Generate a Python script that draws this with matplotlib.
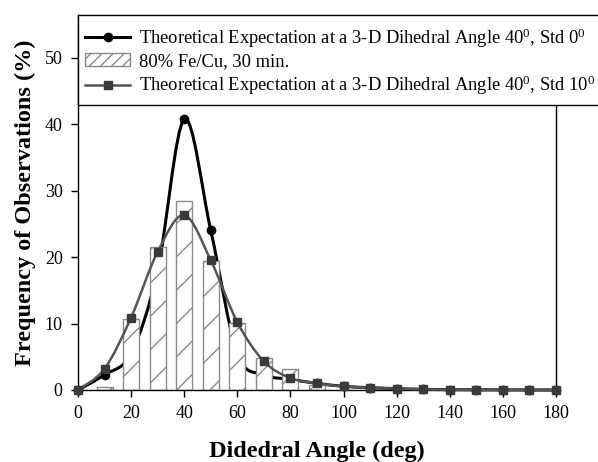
import numpy as np
import matplotlib
matplotlib.use('Agg')
import matplotlib.pyplot as plt
from matplotlib.path import Path
from matplotlib.patches import PathPatch, Rectangle, Patch
from matplotlib.lines import Line2D

plt.rcParams['font.family'] = ['Liberation Serif', 'DejaVu Serif']
plt.rcParams['mathtext.fontset'] = 'custom'
plt.rcParams['mathtext.rm'] = 'Liberation Serif'
plt.rcParams['mathtext.it'] = 'Liberation Serif:italic'
plt.rcParams['hatch.linewidth'] = 1.0

# Data
angles = [0, 10, 20, 30, 40, 50, 60, 70, 80, 90, 100, 110, 120, 130, 140, 150, 160, 170, 180]
std0 = [0, 2.3, 5.5, 18.0, 40.7, 24.0, 5.5, 2.3, 1.6, 1.0, 0.55, 0.35, 0.2, 0.1, 0.05, 0.03, 0.02, 0.01, 0]
std10 = [0, 3.2, 10.9, 20.8, 26.3, 19.5, 10.2, 4.3, 1.8, 1.0, 0.55, 0.35, 0.2, 0.1, 0.05, 0.03, 0.02, 0.01, 0]

bar_angles = [10, 20, 30, 40, 50, 60, 70, 80, 90]
observed = [0.5, 10.7, 21.5, 28.4, 19.4, 10.1, 4.8, 3.2, 0.8]

xticks = [0, 20, 40, 60, 80, 100, 120, 140, 160, 180]
yticks = [0, 10, 20, 30, 40, 50]

labels = [r'Theoretical Expectation at a 3-D Dihedral Angle 40$^0$, Std 0$^0$',
          '80% Fe/Cu, 30 min.',
          r'Theoretical Expectation at a 3-D Dihedral Angle 40$^0$, Std 10$^0$']


def smooth_path(x, y):
    # Catmull-Rom style cubic bezier through the points
    n = len(x)
    verts = [(x[0], y[0])]
    codes = [Path.MOVETO]
    for i in range(n - 1):
        a = max(i - 1, 0)
        d = min(i + 2, n - 1)
        c1 = (x[i] + (x[i + 1] - x[a]) / 6, y[i] + (y[i + 1] - y[a]) / 6)
        c2 = (x[i + 1] - (x[d] - x[i]) / 6, y[i + 1] - (y[d] - y[i]) / 6)
        verts += [c1, c2, (x[i + 1], y[i + 1])]
        codes += [Path.CURVE4] * 3
    return Path(verts, codes)


fig = plt.figure(figsize=(5.98, 4.62), dpi=100)
ax = fig.add_axes([78 / 598, 72 / 462, 478 / 598, 375 / 462])

dark = '#555555'

# black curve sits behind the bars
ax.add_patch(PathPatch(smooth_path(angles, std0), fill=False, edgecolor='black',
                       lw=2.2, zorder=1, clip_on=False))
ax.plot(angles, std0, 'o', color='black', ms=6, zorder=1, clip_on=False)

ax.bar(bar_angles, observed, width=6, facecolor='white', edgecolor='#8a8a8a',
       hatch='/', lw=1, zorder=2)

ax.add_patch(PathPatch(smooth_path(angles, std10), fill=False, edgecolor=dark,
                       lw=1.8, zorder=3, clip_on=False))
ax.plot(angles, std10, 's', color='#3a3a3a', ms=5.5, zorder=3, clip_on=False)

ax.set_xlim(0, 180)
ax.set_ylim(0, 56.4)
ax.set_xticks(xticks)
ax.set_yticks(yticks)
ax.tick_params(direction='out', length=5, width=1, labelsize=13, colors='black', pad=6)
ax.spines['top'].set_visible(False)
ax.spines['right'].set_bounds(0, 43.0)
for s in ax.spines.values():
    s.set_linewidth(1)

ax.set_xlabel('Didedral Angle (deg)', fontsize=17.5, fontweight='bold', labelpad=13)
ax.set_ylabel('Frequency of Observations (%)', fontsize=17.5, fontweight='bold', labelpad=6)

# legend box across the top
ax.add_patch(Rectangle((0, 0.76), 1.1, 0.24, transform=ax.transAxes, facecolor='white',
                       edgecolor='black', lw=1, clip_on=False, zorder=4))
handles = [Line2D([], [], color='black', lw=2.2, marker='o', ms=6),
           Patch(facecolor='white', edgecolor='#8a8a8a', hatch='///', lw=1),
           Line2D([], [], color=dark, lw=1.8, marker='s', ms=5.5, markerfacecolor='#3a3a3a',
                  markeredgecolor='#3a3a3a')]
leg = ax.legend(handles, labels, loc='upper left', bbox_to_anchor=(0.0, 0.99),
                frameon=False, fontsize=13.3, handlelength=2.4, handletextpad=0.5,
                labelspacing=0.2, borderaxespad=0.1, borderpad=0.3)
leg.set_zorder(5)

fig.savefig('out.png', dpi=100)
